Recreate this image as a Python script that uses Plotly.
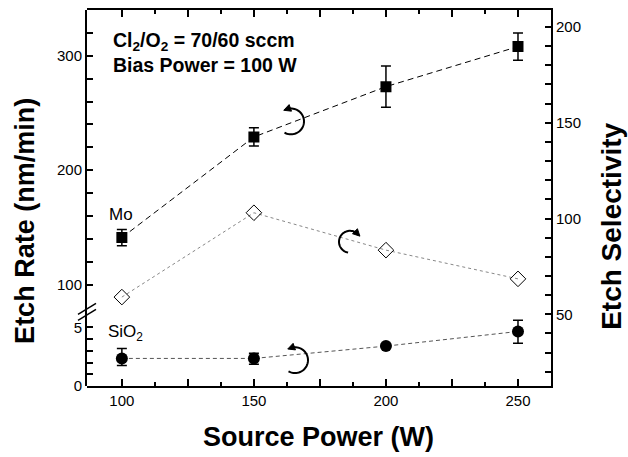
import numpy as np
import plotly.graph_objects as go

# ---- data ----
power = [100, 150, 200, 250]
mo_rate = [141, 229, 273, 308]
mo_err = [7, 8, 18, 12]
sio2_rate = [2.35, 2.35, 3.4, 4.65]
sio2_err_plus = [0.85, 0.45, 0.2, 0.95]
sio2_err_minus = [0.6, 0.5, 0.2, 1.0]
selectivity = [59, 103, 83.5, 68.5]

x_labeled = [100, 150, 200, 250]
x_mid = [125, 175, 225]
x_minor = [112.5, 137.5, 162.5, 187.5, 212.5, 237.5, 262.5]
top_labeled = [100, 200, 300]
top_minor = [v for v in range(100, 321, 20) if v % 100]
bot_labeled = [0, 5]
bot_minor = [1, 2, 3, 4]
r_labeled = [50, 100, 150, 200]
r_minor = [v for v in range(20, 201, 10) if v % 50]

# ---- geometry (pixels) ----
W, H = 628, 457
L, R, T, B = 87, 551, 8, 386
PW, PH = R - L, B - T
BREAK = 311
d = (B - BREAK) / PH

def px(x):
    return (x - L) / PW

def py(y):
    return (B - y) / PH

FONT = 'Liberation Sans, Arial, sans-serif'

fig = go.Figure()

fig.add_trace(go.Scatter(
    x=power, y=mo_rate, xaxis='x', yaxis='y2', mode='lines+markers',
    line=dict(color='black', width=1, dash='6px,4px'),
    marker=dict(symbol='square', size=11, color='black'),
    error_y=dict(type='data', array=mo_err, color='black', thickness=1.5, width=5),
    showlegend=False))

fig.add_trace(go.Scatter(
    x=power, y=selectivity, xaxis='x', yaxis='y3', mode='lines+markers',
    line=dict(color='#888888', width=1, dash='dot'),
    marker=dict(symbol='diamond-open', size=12, color='black', line=dict(width=1)),
    showlegend=False))

fig.add_trace(go.Scatter(
    x=power, y=sio2_rate, xaxis='x', yaxis='y', mode='lines+markers',
    line=dict(color='#555555', width=1, dash='4px,3px'),
    marker=dict(symbol='circle', size=12, color='black'),
    error_y=dict(type='data', array=sio2_err_plus, arrayminus=sio2_err_minus,
                 color='black', thickness=1.5, width=5),
    showlegend=False))

tickfont = dict(family=FONT, size=15, color='black')

def yax(domain, rng, labeled, minor, side='left'):
    return dict(domain=domain, range=rng, anchor='x', side=side,
                tickvals=labeled, ticktext=[str(v) for v in labeled],
                showgrid=False, zeroline=False, showline=True, linecolor='black',
                linewidth=2, ticks='inside', ticklen=6, tickwidth=1.5,
                tickcolor='black', tickfont=tickfont,
                minor=dict(tickvals=minor, ticks='inside', ticklen=6,
                           tickwidth=1.5, tickcolor='black', showgrid=False))

fig.update_layout(
    width=W, height=H,
    margin=dict(l=L, r=W - R, t=T, b=H - B),
    paper_bgcolor='white', plot_bgcolor='rgba(0,0,0,0)',
    xaxis=dict(domain=[0, 1], range=[86.8, 262.5], anchor='y3',
               tickvals=x_labeled, ticktext=[str(v) for v in x_labeled],
               showgrid=False, zeroline=False, showline=True, linecolor='black',
               linewidth=2, ticks='inside', ticklen=7, tickwidth=1.5,
               tickcolor='black', mirror='ticks', tickfont=tickfont,
               minor=dict(tickvals=x_minor, ticks='inside', ticklen=4,
                          tickwidth=1.5, tickcolor='black', showgrid=False)),
    xaxis2=dict(overlaying='x', range=[86.8, 262.5], anchor='y3', side='bottom',
                tickvals=x_mid, showticklabels=False, showgrid=False,
                zeroline=False, showline=False, ticks='inside', ticklen=7,
                tickwidth=1.5, tickcolor='black', mirror='ticks'),
    yaxis=yax([0, d], [0, 6.36], bot_labeled, bot_minor),
    yaxis2=yax([d, 1], [76.5, 340], top_labeled, top_minor),
    yaxis3=yax([0, 1], [12.6, 208.8], r_labeled, r_minor, side='right'),
)

# invisible trace so xaxis2 is rendered
fig.add_trace(go.Scatter(x=[100], y=[100], xaxis='x2', yaxis='y3', mode='markers',
                         marker=dict(opacity=0), hoverinfo='skip', showlegend=False))

ann = []
def add_text(text, x, y, size, bold=False, angle=0, xanchor='center'):
    ann.append(dict(text=('<b>%s</b>' % text) if bold else text,
                    x=px(x), y=py(y), xref='paper', yref='paper',
                    showarrow=False, textangle=angle, xanchor=xanchor, yanchor='middle',
                    font=dict(family=FONT, size=size, color='black')))

add_text('Source Power (W)', 318, 437, 27, bold=True)
add_text('Etch Rate (nm/min)', 25, 220, 27, bold=True, angle=-90)
add_text('Etch Selectivity', 612, 226, 28, bold=True, angle=-90)
add_text('Cl<sub>2</sub>/O<sub>2</sub> = 70/60 sccm', 111, 40, 19.5, bold=True, xanchor='left')
add_text('Bias Power = 100 W', 111, 63, 19.5, bold=True, xanchor='left')
add_text('Mo', 107, 214, 17, xanchor='left')
add_text('SiO<sub>2</sub>', 106, 333, 17, xanchor='left')
fig.update_layout(annotations=ann)

shapes = []
# axis break marks
for off in (0, 6):
    shapes.append(dict(type='line', xref='paper', yref='paper',
                       x0=px(78), y0=py(314 + off), x1=px(96), y1=py(303 + off),
                       line=dict(color='black', width=1.5)))

def arc_arrow(cx, cy, r, a0, a1):
    th = np.radians(np.linspace(a0, a1, 40))
    xs = cx + r * np.cos(th)
    ys = cy - r * np.sin(th)
    path = 'M ' + ' L '.join('%.5f,%.5f' % (px(a), py(b)) for a, b in zip(xs, ys))
    shapes.append(dict(type='path', xref='paper', yref='paper', path=path,
                       line=dict(color='black', width=2)))
    t = th[-1]
    sgn = 1 if a1 > a0 else -1
    dx, dy = -np.sin(t) * sgn, -np.cos(t) * sgn
    tipx, tipy = xs[-1] + dx * 3, ys[-1] + dy * 3
    nx, ny = -dy, dx
    bx, by = tipx - dx * 7, tipy - dy * 7
    p = 'M %.5f,%.5f L %.5f,%.5f L %.5f,%.5f Z' % (
        px(tipx), py(tipy), px(bx + nx * 3.5), py(by + ny * 3.5),
        px(bx - nx * 3.5), py(by - ny * 3.5))
    shapes.append(dict(type='path', xref='paper', yref='paper', path=p,
                       fillcolor='black', line=dict(color='black', width=1)))

arc_arrow(291, 120, 13, -120, 110)
arc_arrow(350, 241, 11, 260, 45)
arc_arrow(295, 360, 13, -120, 110)

fig.update_layout(shapes=shapes)

fig.write_html('out.html')
